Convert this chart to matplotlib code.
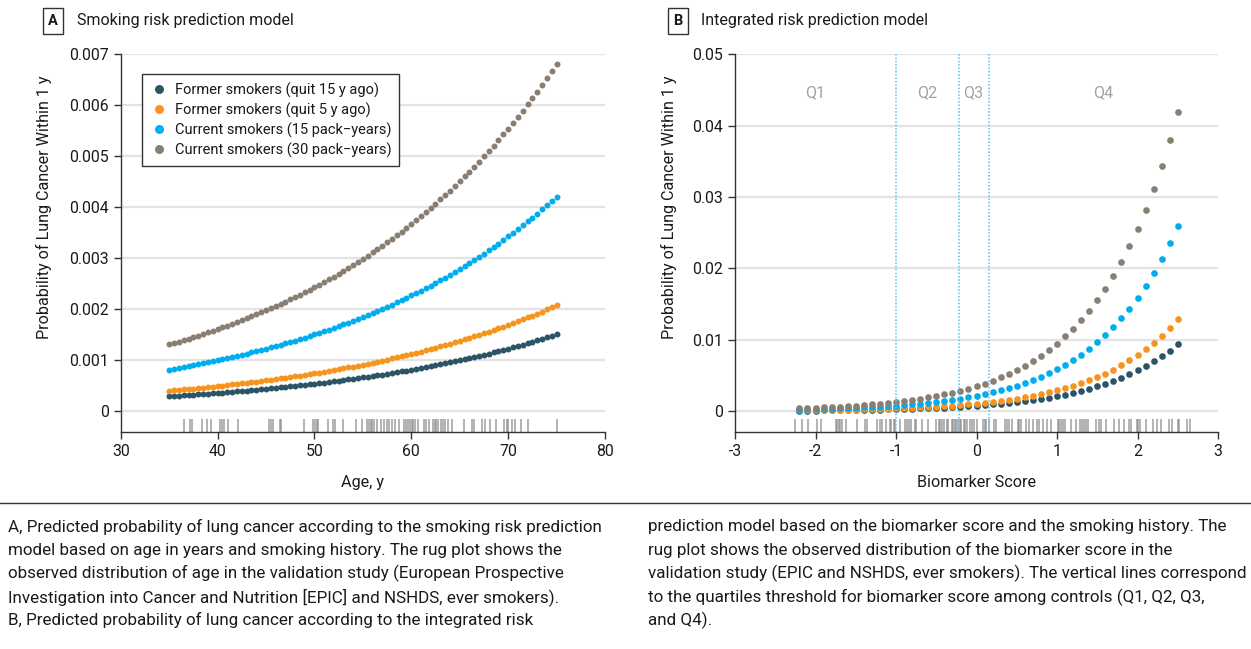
import numpy as np
import matplotlib
matplotlib.use("Agg")
import matplotlib.pyplot as plt

plt.rcParams["font.family"] = ["Roboto", "DejaVu Sans"]

# ---- data (probabilities in units of 1e-4) ----
ages = np.arange(35, 75.01, 0.5)
former15_a = [2.90, 2.96, 3.02, 3.08, 3.15, 3.21, 3.28, 3.35, 3.42, 3.49, 3.56, 3.64, 3.71, 3.79, 3.87, 3.95,
              4.03, 4.12, 4.20, 4.29, 4.38, 4.47, 4.56, 4.66, 4.75, 4.85, 4.95, 5.06, 5.16, 5.27, 5.38, 5.49,
              5.61, 5.72, 5.84, 5.96, 6.09, 6.21, 6.34, 6.48, 6.61, 6.75, 6.89, 7.03, 7.18, 7.33, 7.48, 7.64,
              7.80, 7.96, 8.12, 8.29, 8.46, 8.64, 8.82, 9.00, 9.19, 9.38, 9.58, 9.78, 9.98, 10.19, 10.40, 10.62,
              10.84, 11.06, 11.29, 11.53, 11.77, 12.01, 12.26, 12.52, 12.78, 13.05, 13.32, 13.60, 13.88, 14.17,
              14.46, 14.76, 15.07]
former5_a = [4.00, 4.08, 4.17, 4.25, 4.34, 4.43, 4.53, 4.62, 4.72, 4.81, 4.91, 5.02, 5.12, 5.23, 5.34, 5.45,
             5.56, 5.68, 5.80, 5.92, 6.04, 6.16, 6.29, 6.42, 6.56, 6.69, 6.83, 6.98, 7.12, 7.27, 7.42, 7.57,
             7.73, 7.89, 8.06, 8.23, 8.40, 8.57, 8.75, 8.93, 9.12, 9.31, 9.50, 9.70, 9.90, 10.11, 10.32, 10.53,
             10.75, 10.98, 11.20, 11.44, 11.68, 11.92, 12.17, 12.42, 12.68, 12.94, 13.21, 13.49, 13.77, 14.05,
             14.35, 14.64, 14.95, 15.26, 15.58, 15.90, 16.23, 16.57, 16.92, 17.27, 17.63, 17.99, 18.37, 18.75,
             19.14, 19.54, 19.95, 20.36, 20.79]
current15_a = [8.10, 8.27, 8.44, 8.62, 8.79, 8.98, 9.17, 9.36, 9.55, 9.75, 9.95, 10.16, 10.37, 10.59, 10.81,
               11.03, 11.26, 11.50, 11.74, 11.98, 12.23, 12.48, 12.74, 13.01, 13.28, 13.55, 13.84, 14.13, 14.42,
               14.72, 15.03, 15.34, 15.66, 15.98, 16.32, 16.66, 17.00, 17.36, 17.72, 18.09, 18.46, 18.85, 19.24,
               19.64, 20.05, 20.47, 20.89, 21.33, 21.77, 22.22, 22.69, 23.16, 23.64, 24.13, 24.64, 25.15, 25.67,
               26.21, 26.75, 27.31, 27.88, 28.46, 29.05, 29.66, 30.27, 30.90, 31.55, 32.20, 32.87, 33.56, 34.26,
               34.97, 35.70, 36.44, 37.20, 37.97, 38.76, 39.57, 40.39, 41.23, 42.09]
current30_a = [13.10, 13.37, 13.65, 13.93, 14.22, 14.52, 14.82, 15.13, 15.44, 15.77, 16.09, 16.43, 16.77, 17.12,
               17.48, 17.84, 18.21, 18.59, 18.98, 19.37, 19.78, 20.19, 20.61, 21.04, 21.47, 21.92, 22.38, 22.85,
               23.32, 23.81, 24.30, 24.81, 25.32, 25.85, 26.39, 26.94, 27.50, 28.07, 28.66, 29.25, 29.86, 30.48,
               31.12, 31.77, 32.43, 33.10, 33.79, 34.49, 35.21, 35.94, 36.69, 37.46, 38.24, 39.03, 39.84, 40.67,
               41.52, 42.39, 43.27, 44.17, 45.09, 46.03, 46.98, 47.96, 48.96, 49.98, 51.02, 52.08, 53.16, 54.27,
               55.40, 56.55, 57.73, 58.93, 60.16, 61.41, 62.69, 63.99, 65.32, 66.68, 68.07]

score = np.round(np.arange(-2.2, 2.51, 0.1), 1)
former15_b = [0.9, 1.0, 1.1, 1.2, 1.3, 1.5, 1.6, 1.8, 2.0, 2.2, 2.4, 2.7, 2.9, 3.2, 3.6, 4.0, 4.4, 4.8, 5.3,
              5.9, 6.5, 7.2, 7.9, 8.7, 9.6, 10.7, 11.8, 13.0, 14.3, 15.8, 17.5, 19.3, 21.3, 23.5, 26.0, 28.7,
              31.6, 34.9, 38.6, 42.6, 47.0, 51.9, 57.3, 63.3, 69.8, 77.1, 85.1, 94.0]
former5_b = [1.2, 1.4, 1.5, 1.7, 1.8, 2.0, 2.2, 2.5, 2.7, 3.0, 3.3, 3.7, 4.0, 4.5, 4.9, 5.4, 6.0, 6.6, 7.3,
             8.1, 8.9, 9.8, 10.9, 12.0, 13.2, 14.6, 16.1, 17.8, 19.7, 21.7, 24.0, 26.5, 29.2, 32.3, 35.6, 39.3,
             43.4, 47.9, 52.9, 58.4, 64.5, 71.2, 78.6, 86.8, 95.8, 105.8, 116.8, 129.0]
current15_b = [2.5, 2.7, 3.0, 3.3, 3.7, 4.1, 4.5, 5.0, 5.5, 6.0, 6.7, 7.4, 8.1, 9.0, 9.9, 10.9, 12.1, 13.3,
               14.7, 16.3, 17.9, 19.8, 21.9, 24.2, 26.7, 29.5, 32.5, 35.9, 39.6, 43.8, 48.3, 53.3, 58.9, 65.0,
               71.8, 79.2, 87.5, 96.6, 106.7, 117.8, 130.0, 143.5, 158.5, 175.0, 193.2, 213.3, 235.5, 260.0]
current30_b = [4.0, 4.4, 4.9, 5.4, 5.9, 6.5, 7.2, 8.0, 8.8, 9.7, 10.8, 11.9, 13.1, 14.5, 16.0, 17.6, 19.5,
               21.5, 23.7, 26.2, 28.9, 31.9, 35.3, 38.9, 43.0, 47.5, 52.4, 57.9, 63.9, 70.5, 77.9, 85.9, 94.9,
               104.8, 115.7, 127.7, 141.0, 155.7, 171.9, 189.8, 209.5, 231.3, 255.4, 282.0, 311.3, 343.7, 379.5,
               419.0]

rug_age = [36.5, 37.2, 37.4, 38.4, 38.9, 39.3, 40.3, 40.5, 40.7, 41.1, 42.1, 45.3, 45.5, 45.7, 46.4, 46.6,
           48.9, 49.9, 50.1, 50.3, 50.4, 51.4, 51.9, 52.1, 53.0, 54.3, 54.9, 55.4, 55.6, 55.8, 55.9, 56.2,
           56.5, 56.9, 57.2, 57.5, 57.7, 58.0, 58.3, 58.7, 59.3, 59.5, 59.7, 59.9, 60.1, 60.2, 60.4, 60.7,
           61.3, 61.5, 61.8, 62.2, 62.4, 62.6, 62.8, 63.1, 63.3, 63.5, 63.8, 64.2, 65.4, 66.3, 66.5, 67.3,
           67.6, 68.1, 68.7, 69.6, 69.9, 70.0, 70.4, 70.7, 71.3, 72.1, 75.0]
rug_score = [-2.25, -2.17, -2.09, -1.98, -1.93, -1.75, -1.73, -1.71, -1.69, -1.67, -1.62, -1.48, -1.39,
             -1.36, -1.24, -1.20, -1.18, -1.13, -1.08, -1.06, -1.03, -1.01, -0.95, -0.89, -0.86, -0.84,
             -0.81, -0.77, -0.75, -0.68, -0.60, -0.50, -0.47, -0.45, -0.43, -0.40, -0.37, -0.35, -0.31,
             -0.29, -0.27, -0.25, -0.23, -0.21, -0.19, -0.16, -0.14, -0.12, -0.08, -0.05, -0.03, 0.0, 0.08,
             0.10, 0.12, 0.15, 0.22, 0.24, 0.35, 0.38, 0.40, 0.44, 0.51, 0.53, 0.55, 0.62, 0.65, 0.70, 0.75,
             0.78, 0.82, 0.87, 0.93, 1.01, 1.03, 1.05, 1.07, 1.10, 1.17, 1.24, 1.28, 1.31, 1.33, 1.36, 1.39,
             1.48, 1.52, 1.55, 1.61, 1.71, 1.77, 1.83, 1.89, 1.92, 1.99, 2.01, 2.03, 2.10, 2.19, 2.24, 2.29,
             2.39, 2.43, 2.50, 2.52, 2.62, 2.65]
quartile_cuts = [-1.0, -0.22, 0.15]
quartile_labels = ["Q1", "Q2", "Q3", "Q4"]
quartile_label_x = [-2.0, -0.61, -0.035, 1.575]

labels = ["Former smokers (quit 15 y ago)", "Former smokers (quit 5 y ago)",
          "Current smokers (15 pack\u2212years)", "Current smokers (30 pack\u2212years)"]
colors = ["#2b5466", "#f7941d", "#00aeef", "#8a7e72"]

TXT = "#1a1a1a"
AX = "#333333"

fig = plt.figure(figsize=(12.51, 6.49), dpi=100)
W, H = 1251, 649
renderer = fig.canvas.get_renderer()


def fit_size(text, size, target_px):
    # font size that makes `text` about target_px wide
    t = fig.text(0, 0, text, fontsize=size)
    w = t.get_window_extent(renderer).width
    t.remove()
    return size * target_px / w


def make_ax(left, right):
    return fig.add_axes([left / W, (H - 432) / H, (right - left) / W, (432 - 54.3) / H])


cap_left = ["A, Predicted probability of lung cancer according to the smoking risk prediction",
            "model based on age in years and smoking history. The rug plot shows the",
            "observed distribution of age in the validation study (European Prospective",
            "Investigation into Cancer and Nutrition [EPIC] and NSHDS, ever smokers).",
            "B, Predicted probability of lung cancer according to the integrated risk"]
cap_right = ["prediction model based on the biomarker score and the smoking history. The",
             "rug plot shows the observed distribution of the biomarker score in the",
             "validation study (EPIC and NSHDS, ever smokers). The vertical lines correspond",
             "to the quartiles threshold for biomarker score among controls (Q1, Q2, Q3,",
             "and Q4)."]

tick_fs = fit_size("0.007", 11, 40)
lab_fs = fit_size("Biomarker Score", 11, 118)
leg_fs = fit_size("Current smokers (15 pack\u2212years)", 11, 216)
title_fs = fit_size("Smoking risk prediction model", 11, 214)
cap_fs = min(fit_size(cap_left[0], 12, 628), fit_size(cap_right[2], 12, 598))


def style(ax):
    for s in ["top", "right"]:
        ax.spines[s].set_visible(False)
    for s in ["left", "bottom"]:
        ax.spines[s].set_color(AX)
        ax.spines[s].set_linewidth(1)
    ax.tick_params(colors=AX, labelcolor=TXT, labelsize=tick_fs, length=5, width=1)
    ax.yaxis.grid(True, color="#e3e3e3", lw=1.6)
    ax.set_axisbelow(True)


# ---- panel A ----
axA = make_ax(120.7, 605)
style(axA)
series_a = [former15_a, former5_a, current15_a, current30_a]
for vals, c, lab in zip(series_a, colors, labels):
    axA.plot(ages, np.array(vals) * 1e-4, "o", ms=4.3, mew=0, color=c, label=lab)
axA.vlines(rug_age, 0, 0.034, transform=axA.get_xaxis_transform(), color="#888888", alpha=0.75, lw=1.2)
axA.set_xlim(30, 80)
axA.set_ylim(-0.00041, 0.007)
axA.set_xticks([30, 40, 50, 60, 70, 80])
axA.set_yticks([0, 0.001, 0.002, 0.003, 0.004, 0.005, 0.006, 0.007])
axA.set_yticklabels(["0", "0.001", "0.002", "0.003", "0.004", "0.005", "0.006", "0.007"])
axA.set_xlabel("Age, y", fontsize=lab_fs, color=TXT)
axA.set_ylabel("Probability of Lung Cancer Within 1 y", fontsize=lab_fs, color=TXT)
axA.xaxis.set_label_coords(0.5, -0.114)
axA.yaxis.set_label_coords(-0.142, 0.596)
leg = axA.legend(loc="upper left", bbox_to_anchor=(0.045, 0.947), fontsize=leg_fs, markerscale=1.5,
                 frameon=True, fancybox=False, framealpha=1, edgecolor=AX, labelspacing=0.32,
                 handletextpad=0.45, handlelength=1.2, borderpad=0.55, borderaxespad=0)
leg.get_frame().set_linewidth(1)
for t in leg.get_texts():
    t.set_color(TXT)

# ---- panel B ----
axB = make_ax(735, 1218)
style(axB)
series_b = [former15_b, former5_b, current15_b, current30_b]
for vals, c in zip(series_b, colors):
    axB.plot(score, np.array(vals) * 1e-4, "o", ms=4.8, mew=0, color=c)
axB.vlines(rug_score, 0, 0.034, transform=axB.get_xaxis_transform(), color="#888888", alpha=0.75, lw=1.2)
for q in quartile_cuts:
    axB.axvline(q, color="#55c3ee", ls=(0, (1, 1.2)), lw=1.1)
for qx, ql in zip(quartile_label_x, quartile_labels):
    axB.text(qx, 0.0447, ql, ha="center", va="center", fontsize=lab_fs, color="#a3a3a3")
axB.set_xlim(-3, 3)
axB.set_ylim(-0.0029, 0.05)
axB.set_xticks([-3, -2, -1, 0, 1, 2, 3])
axB.set_xticklabels(["-3", "-2", "-1", "0", "1", "2", "3"])
axB.set_yticks([0, 0.01, 0.02, 0.03, 0.04, 0.05])
axB.set_yticklabels(["0", "0.01", "0.02", "0.03", "0.04", "0.05"])
axB.set_xlabel("Biomarker Score", fontsize=lab_fs, color=TXT)
axB.set_ylabel("Probability of Lung Cancer Within 1 y", fontsize=lab_fs, color=TXT)
axB.xaxis.set_label_coords(0.5, -0.114)
axB.yaxis.set_label_coords(-0.12, 0.596)

# ---- panel titles ----
box = dict(boxstyle="square,pad=0.38", fc="white", ec=AX, lw=1)
fig.text(53 / W, 1 - 21 / H, "A", ha="center", va="center", fontsize=10.5, fontweight="bold", color=TXT, bbox=box)
fig.text(77 / W, 1 - 20 / H, "Smoking risk prediction model", ha="left", va="center", fontsize=title_fs, color=TXT)
fig.text(678 / W, 1 - 21 / H, "B", ha="center", va="center", fontsize=10.5, fontweight="bold", color=TXT, bbox=box)
fig.text(701 / W, 1 - 20 / H, "Integrated risk prediction model", ha="left", va="center", fontsize=title_fs, color=TXT)

# ---- caption ----
fig.add_artist(plt.Line2D([0, 1], [1 - 503 / H, 1 - 503 / H], color=AX, lw=1))
line_y = [527, 550, 573.5, 597, 620]
for y, t in zip(line_y, cap_left):
    fig.text(8 / W, 1 - y / H, t, ha="left", va="center", fontsize=cap_fs, color=TXT)
for y, t in zip(line_y, cap_right):
    fig.text(648 / W, 1 - y / H, t, ha="left", va="center", fontsize=cap_fs, color=TXT)

fig.savefig("out.png", dpi=100)
